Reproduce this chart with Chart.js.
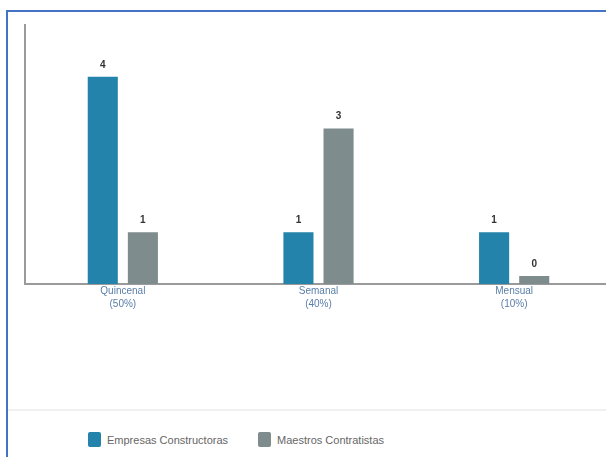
<!DOCTYPE html>
<html>
<head>
<meta charset="utf-8">
<script src="https://cdn.jsdelivr.net/npm/chart.js@4.4.0/dist/chart.umd.min.js"></script>
<style>
    body { margin: 0; background: #fff; overflow: hidden; width: 606px; height: 457px; position: relative; font-family: "Liberation Sans", Arial, sans-serif; }
    .frame { position: absolute; left: 6px; top: 10px; width: 640px; height: 480px; border: 2px solid #4472c4; box-sizing: border-box; }
    .chart-box { position: absolute; left: 0; top: 0; width: 625px; height: 311px; }
    .sep { position: absolute; left: 8px; top: 409px; width: 600px; height: 2px; background: #f0f0f0; }
    #legend { position: absolute; left: 88px; top: 432px; display: flex; align-items: center; font-size: 11px; color: #666; }
    #legend .item { display: flex; align-items: center; margin-right: 30px; }
    #legend .box { width: 13px; height: 15px; border-radius: 2px; margin-right: 6px; }
</style>
</head>
<body>
<div class="frame"></div>
<div class="chart-box"><canvas id="pagoChart"></canvas></div>
<div class="sep"></div>
<div id="legend"></div>

<script>
const categories = [['Quincenal', '(50%)'], ['Semanal', '(40%)'], ['Mensual', '(10%)']];
const empresas = [4, 1, 1];
const maestros = [1, 3, 0];
const seriesNames = ['Empresas Constructoras', 'Maestros Contratistas'];
const seriesColors = ['#2383aa', '#7f8c8d'];

// values above every bar
const valueLabels = {
    id: 'valueLabels',
    afterDatasetsDraw(chart) {
        const ctx = chart.ctx;
        ctx.save();
        ctx.font = 'bold 10px "Liberation Sans", Arial, sans-serif';
        ctx.fillStyle = '#333';
        ctx.textAlign = 'center';
        ctx.textBaseline = 'bottom';
        chart.data.datasets.forEach((ds, i) => {
            chart.getDatasetMeta(i).data.forEach((bar, j) => {
                ctx.fillText(ds.data[j], bar.x, bar.y - 7);
            });
        });
        ctx.restore();
    }
};

const ctx = document.getElementById('pagoChart').getContext('2d');
const chart = new Chart(ctx, {
    type: 'bar',
    data: {
        labels: categories,
        datasets: [{
            label: seriesNames[0],
            data: empresas,
            backgroundColor: seriesColors[0]
        }, {
            label: seriesNames[1],
            data: maestros,
            backgroundColor: seriesColors[1]
        }]
    },
    options: {
        responsive: true,
        maintainAspectRatio: false,
        animation: false,
        categoryPercentage: 0.41,
        barPercentage: 0.75,
        minBarLength: 8,
        layout: { padding: { top: 25, left: 25, right: 13, bottom: 0 } },
        plugins: {
            legend: { display: false },
            tooltip: { enabled: false }
        },
        scales: {
            y: {
                min: 0,
                max: 5,
                grid: { display: false, drawTicks: false },
                ticks: { display: false },
                border: { color: '#9a9a9a', width: 2 }
            },
            x: {
                grid: { display: false, drawTicks: false },
                border: { color: '#9a9a9a', width: 2 },
                ticks: {
                    color: '#5a7ea8',
                    padding: 1,
                    maxRotation: 0,
                    font: { size: 10, family: '"Liberation Sans", Arial, sans-serif', lineHeight: 1.25 }
                }
            }
        }
    },
    plugins: [valueLabels]
});

const legendDiv = document.getElementById('legend');
legendDiv.innerHTML = chart.data.datasets.map(ds => `
    <div class="item"><span class="box" style="background:${ds.backgroundColor}"></span>${ds.label}</div>
`).join('');
</script>
</body>
</html>
